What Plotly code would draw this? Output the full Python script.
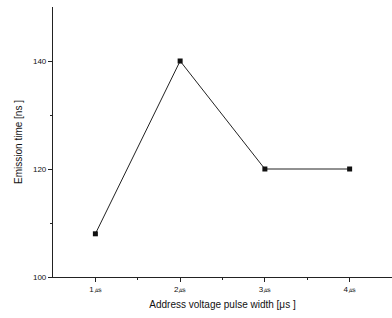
import plotly.graph_objects as go

x_vals = [1, 2, 3, 4]
y_vals = [108, 140, 120, 120]
x_tick_labels = ["1㎲", "2㎲", "3㎲", "4㎲"]
y_tick_vals = [100, 120, 140]

fig = go.Figure()
fig.add_trace(go.Scatter(
    x=x_vals, y=y_vals, mode="lines+markers",
    line=dict(color="#222222", width=1),
    marker=dict(symbol="square", size=5, color="#111111"),
    showlegend=False,
))

fig.update_layout(
    width=392, height=318,
    margin=dict(l=53, r=0, t=7, b=41),
    paper_bgcolor="white", plot_bgcolor="white",
    font=dict(family="Liberation Sans, Arial, sans-serif", color="#111111"),
    xaxis=dict(
        range=[0.5, 4.5], tickvals=x_vals, ticktext=x_tick_labels,
        showline=True, linecolor="#222222", linewidth=1.2,
        ticks="outside", ticklen=4, tickcolor="#222222",
        minor=dict(tickvals=[1.5, 2.5, 3.5], ticks="outside", ticklen=2, tickcolor="#222222"),
        showgrid=False, zeroline=False, tickfont=dict(size=8), automargin=False,
        title=dict(text="Address voltage pulse width [μs ]", font=dict(size=10), standoff=8),
    ),
    yaxis=dict(
        range=[100, 150], tickvals=y_tick_vals,
        showline=True, linecolor="#222222", linewidth=1.2,
        ticks="outside", ticklen=4, tickcolor="#222222",
        minor=dict(tickvals=[110, 130], ticks="outside", ticklen=2, tickcolor="#222222"),
        showgrid=False, zeroline=False, tickfont=dict(size=8), automargin=False,
        title=dict(text="Emission time [ns ]", font=dict(size=10), standoff=8),
    ),
)

fig.write_html("out.html", config={"displayModeBar": False},
               post_script="document.body.style.margin='0px';")
